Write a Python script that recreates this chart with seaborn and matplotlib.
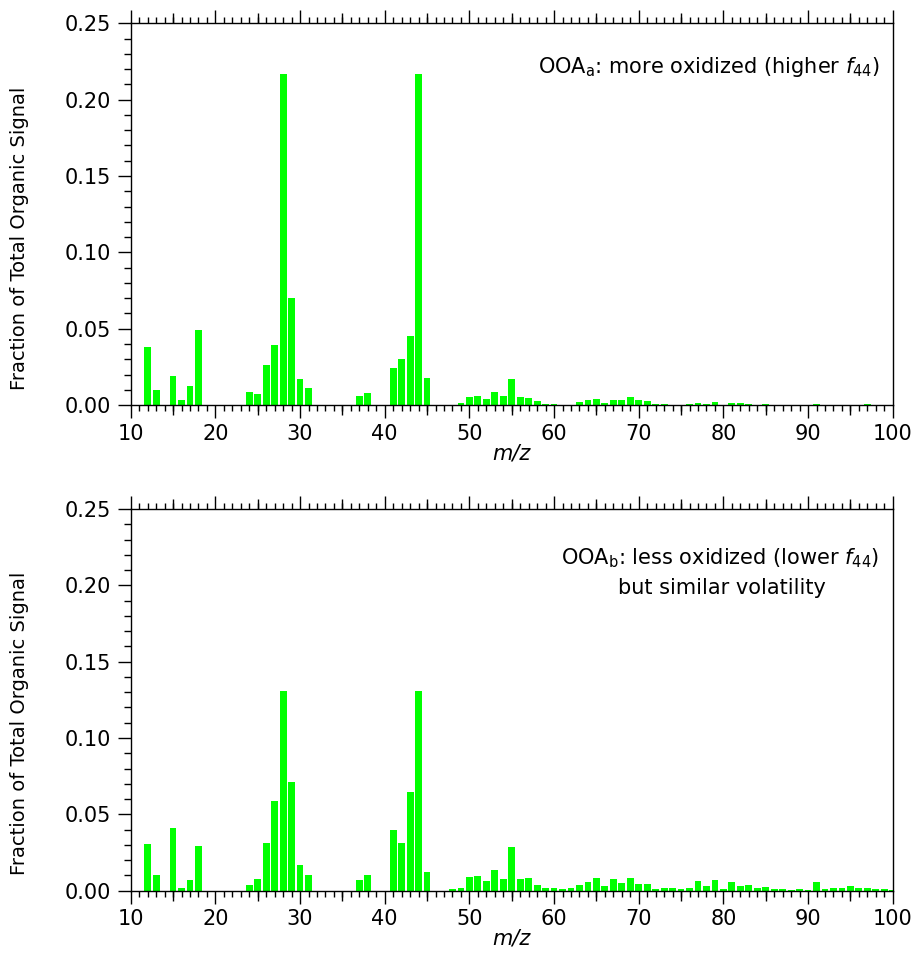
import matplotlib
matplotlib.use("Agg")
import matplotlib.pyplot as plt
import seaborn as sns
import pandas as pd
from matplotlib.ticker import MultipleLocator, FixedLocator, NullFormatter

mz = list(range(12, 101))

ooa_a = [
    0.0378, 0.0100, 0.0000, 0.0189, 0.0030, 0.0124, 0.0490, 0.0000, 0.0000, 0.0000,  # 12-21
    0.0000, 0.0000, 0.0085, 0.0070, 0.0260, 0.0390, 0.2165, 0.0700, 0.0170, 0.0110,  # 22-31
    0.0000, 0.0000, 0.0000, 0.0000, 0.0000, 0.0057, 0.0080, 0.0000, 0.0000, 0.0240,  # 32-41
    0.0300, 0.0450, 0.2165, 0.0176, 0.0002, 0.0002, 0.0002, 0.0013, 0.0050, 0.0057,  # 42-51
    0.0040, 0.0085, 0.0057, 0.0168, 0.0050, 0.0048, 0.0024, 0.0005, 0.0010, 0.0003,  # 52-61
    0.0003, 0.0017, 0.0030, 0.0040, 0.0015, 0.0035, 0.0035, 0.0050, 0.0030, 0.0024,  # 62-71
    0.0005, 0.0007, 0.0003, 0.0002, 0.0007, 0.0013, 0.0007, 0.0020, 0.0003, 0.0015,  # 72-81
    0.0013, 0.0008, 0.0003, 0.0005, 0.0002, 0.0003, 0.0002, 0.0002, 0.0002, 0.0008,  # 82-91
    0.0002, 0.0002, 0.0002, 0.0003, 0.0003, 0.0008, 0.0003, 0.0003, 0.0002,          # 92-100
]

ooa_b = [
    0.0308, 0.0103, 0.0000, 0.0408, 0.0017, 0.0072, 0.0295, 0.0000, 0.0000, 0.0000,  # 12-21
    0.0000, 0.0000, 0.0037, 0.0074, 0.0310, 0.0585, 0.1310, 0.0709, 0.0166, 0.0100,  # 22-31
    0.0000, 0.0000, 0.0000, 0.0000, 0.0000, 0.0068, 0.0103, 0.0000, 0.0000, 0.0400,  # 32-41
    0.0314, 0.0644, 0.1310, 0.0122, 0.0000, 0.0000, 0.0008, 0.0020, 0.0087, 0.0098,  # 42-51
    0.0063, 0.0133, 0.0074, 0.0284, 0.0079, 0.0083, 0.0037, 0.0015, 0.0015, 0.0009,  # 52-61
    0.0017, 0.0037, 0.0057, 0.0083, 0.0033, 0.0079, 0.0050, 0.0083, 0.0041, 0.0044,  # 62-71
    0.0009, 0.0017, 0.0015, 0.0011, 0.0017, 0.0061, 0.0030, 0.0068, 0.0011, 0.0057,  # 72-81
    0.0033, 0.0035, 0.0017, 0.0024, 0.0009, 0.0011, 0.0003, 0.0011, 0.0003, 0.0059,  # 82-91
    0.0011, 0.0017, 0.0015, 0.0028, 0.0015, 0.0017, 0.0009, 0.0009, 0.0003,          # 92-100
]

x_major = [10, 20, 30, 40, 50, 60, 70, 80, 90, 100]
x_mid = [15, 25, 35, 45, 55, 65, 75, 85, 95]
y_major = [0.00, 0.05, 0.10, 0.15, 0.20, 0.25]
y_labels = ["0.00", "0.05", "0.10", "0.15", "0.20", "0.25"]

sns.set_style("ticks")
plt.rcParams["font.family"] = ["DejaVu Sans"]
plt.rcParams["mathtext.fontset"] = "dejavusans"
for key in ("text.color", "axes.labelcolor", "xtick.color", "ytick.color", "axes.edgecolor"):
    plt.rcParams[key] = "black"

FS = 15
fig = plt.figure(figsize=(9.16, 9.76), dpi=100)
ax_top = fig.add_axes([0.1427, 0.585, 0.8319, 0.3911])
ax_bot = fig.add_axes([0.1427, 0.0874, 0.8319, 0.3911])

green = "#00ff00"

def style_axis(ax):
    for s in ax.spines.values():
        s.set_visible(True)
        s.set_linewidth(1.0)
        s.set_color("black")
    ax.set_xlim(10, 100)
    ax.set_ylim(0, 0.25)
    ax.xaxis.set_major_locator(FixedLocator(x_major))
    ax.xaxis.set_minor_locator(MultipleLocator(1))
    ax.set_xticklabels([str(v) for v in x_major])
    ax.yaxis.set_major_locator(FixedLocator(y_major))
    ax.yaxis.set_minor_locator(MultipleLocator(0.01))
    ax.set_yticklabels(y_labels)
    ax.tick_params(axis="x", which="both", direction="out", top=True, bottom=True,
                   labeltop=False, labelbottom=True, color="black", width=1.0)
    ax.tick_params(axis="x", which="major", length=9.4, pad=4, labelsize=FS)
    ax.tick_params(axis="x", which="minor", length=4.3)
    ax.tick_params(axis="y", which="both", direction="out", left=True, right=False,
                   color="black", width=1.0)
    ax.tick_params(axis="y", which="major", length=9.4, pad=5, labelsize=FS)
    ax.tick_params(axis="y", which="minor", length=5.0)
    for loc in ("bottom", "top"):
        sec = ax.secondary_xaxis(loc)
        sec.xaxis.set_major_locator(FixedLocator(x_mid))
        sec.xaxis.set_major_formatter(NullFormatter())
        sec.tick_params(axis="x", which="major", direction="out", length=7.0, width=1.0,
                        color="black")
        sec.xaxis.set_minor_locator(FixedLocator([]))
        for s in sec.spines.values():
            s.set_visible(False)
    ax.set_xlabel("m/z", fontsize=FS, style="italic")
    ax.xaxis.set_label_coords(0.5, -0.100)
    ax.set_ylabel("Fraction of Total Organic Signal", fontsize=14)
    ax.yaxis.set_label_coords(-0.134, 0.438)
    ax.grid(False)

for ax, vals in ((ax_top, ooa_a), (ax_bot, ooa_b)):
    df = pd.DataFrame({"mz": mz, "frac": vals})
    sns.barplot(data=df, x="mz", y="frac", native_scale=True, color=green,
                saturation=1, width=0.8, errorbar=None, linewidth=0, ax=ax)
    style_axis(ax)

ax_top.text(0.983, 0.885, r"OOA$_\mathrm{a}$: more oxidized (higher $f_{\mathrm{44}}$)",
            transform=ax_top.transAxes, ha="right", va="center", fontsize=FS)
ax_bot.text(0.983, 0.872, r"OOA$_\mathrm{b}$: less oxidized (lower $f_{\mathrm{44}}$)",
            transform=ax_bot.transAxes, ha="right", va="center", fontsize=FS)
ax_bot.text(0.776, 0.793, "but similar volatility",
            transform=ax_bot.transAxes, ha="center", va="center", fontsize=FS)

fig.savefig("out.png", dpi=100, facecolor="white")
